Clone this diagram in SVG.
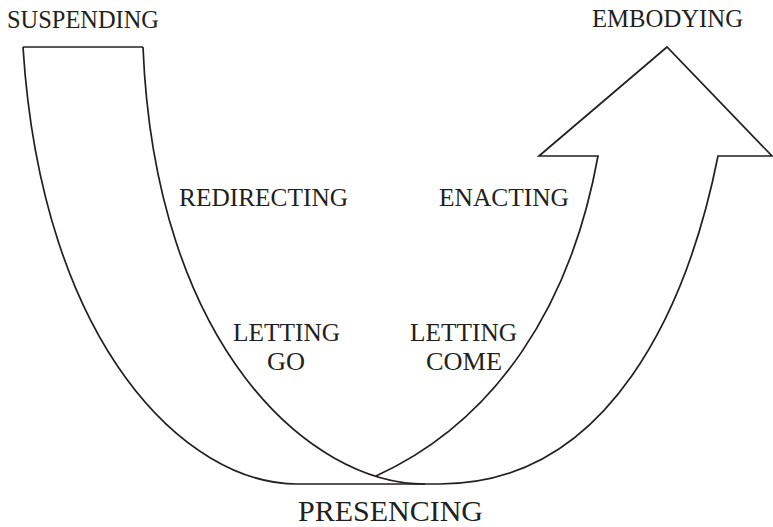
<svg xmlns="http://www.w3.org/2000/svg" width="773" height="527" viewBox="0 0 773 527">
<style>
.ln{fill:none;stroke:#231f20;stroke-width:1.7;stroke-linejoin:miter}
.t{font-family:"Liberation Serif","Times New Roman",serif;font-size:25px;fill:#231f20}
</style>
<rect width="773" height="527" fill="#fff"/>
<g id="connectors">
<path class="ln" d="M23,47 L143,47"/>
<path class="ln" d="M23,47 C42,347 187,484 297,484 L440,484 C610,484 688,306 718,156 L772,156 L667,47 L539,156 L598,156 C571,306 496,421 376,476"/>
<path class="ln" d="M143,47 C155,347 310,484 425,484"/>
</g>
<g id="suspending"><text class="t" x="7" y="28" textLength="152" lengthAdjust="spacingAndGlyphs">SUSPENDING</text></g>
<g id="embodying"><text class="t" x="592" y="27" textLength="151" lengthAdjust="spacingAndGlyphs">EMBODYING</text></g>
<g id="redirecting"><text class="t" x="179" y="206" textLength="169" lengthAdjust="spacingAndGlyphs">REDIRECTING</text></g>
<g id="enacting"><text class="t" x="439" y="206" textLength="130" lengthAdjust="spacingAndGlyphs">ENACTING</text></g>
<g id="letting-go"><text class="t" x="233" y="341" textLength="107" lengthAdjust="spacingAndGlyphs">LETTING</text><text class="t" x="267" y="370" textLength="38" lengthAdjust="spacingAndGlyphs">GO</text></g>
<g id="letting-come"><text class="t" x="410" y="341" textLength="107" lengthAdjust="spacingAndGlyphs">LETTING</text><text class="t" x="426" y="370" textLength="76" lengthAdjust="spacingAndGlyphs">COME</text></g>
<g id="presencing"><text class="t" x="298" y="521" style="font-size:30px" textLength="185" lengthAdjust="spacingAndGlyphs">PRESENCING</text></g>
</svg>
